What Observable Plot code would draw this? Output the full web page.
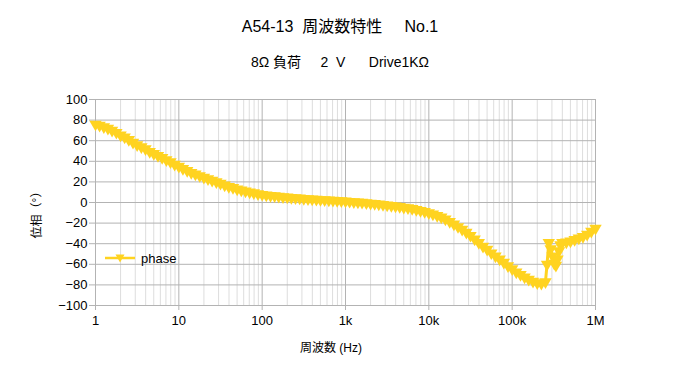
<!DOCTYPE html>
<html><head><meta charset="utf-8">
<script src="https://cdn.jsdelivr.net/npm/d3@7"></script>
<script src="https://cdn.jsdelivr.net/npm/@observablehq/plot@0.6"></script>
<style>
body{margin:0;background:#fff;}
#wrap{position:relative;width:680px;height:383px;font-family:"Liberation Sans","Noto Sans CJK JP",sans-serif;color:#000;overflow:hidden;}
.t{position:absolute;white-space:pre;line-height:1;}
</style></head><body><div id="wrap"></div>
<script>
const freq = [
  1,1.12,1.26,1.41,1.58,1.78,2,2.24,2.51,2.82,3.16,3.55,3.98,4.47,5.01,5.62,6.31,7.08,7.94,8.91,
  10,11.2,12.6,14.1,15.8,17.8,20,22.4,25.1,28.2,31.6,35.5,39.8,44.7,50.1,56.2,63.1,70.8,79.4,89.1,
  100,112,126,141,158,178,200,224,251,282,316,355,398,447,501,562,631,708,794,891,
  1000,1120,1260,1410,1580,1780,2000,2240,2510,2820,3160,3550,3980,4470,5010,5620,6310,7080,7940,8910,
  10000,11200,12600,14100,15800,17800,20000,22400,25100,28200,31600,35500,39800,44700,50100,56200,63100,70800,79400,89100,
  100000,112000,126000,141000,158000,178000,200000,224000,251000,262000,275000,290000,305000,320000,335000,350000,365000,380000,400000,447000,501000,562000,631000,708000,794000,891000,1000000
];
const phase = [
  76,75,73.5,72,70,68,65.5,63.5,61,58.5,56,54,52,49.5,47.5,45.5,43.5,41.5,39.5,37,
  35,33,31,29,27.5,26,24.5,23,21.5,20,18.5,17,15.5,14.5,13,12,11,10,9.3,8.5,
  7.8,7.3,6.8,6.4,6,5.6,5.2,4.8,4.5,4.2,3.9,3.6,3.3,3.0,2.7,2.5,2.3,2.1,1.9,1.7,
  1.3,1.0,0.7,0.4,0.1,-0.3,-0.7,-1.1,-1.5,-2,-2.5,-3,-3.5,-4,-4.6,-5.2,-6,-6.8,-7.8,-8.8,
  -10,-11.2,-12.6,-14.2,-16,-18.5,-21,-23.5,-26,-29,-32,-35.5,-39,-42.5,-45.5,-49,-52,-55,-58,-61.5,
  -64.5,-67.5,-70,-72.5,-74.5,-76.5,-78,-78.5,-77,-60,-39,-45,-52,-59,-61,-55,-47,-41,-39,-38.5,-37.5,-36,-34.5,-33,-31,-28,-25
];
const xTicks = [1,10,100,1000,10000,100000,1000000];
const xTickLabels = ["1","10","100","1k","10k","100k","1M"];
const yTicks = [-100,-80,-60,-40,-20,0,20,40,60,80,100];
const seriesName = "phase";
const titleText = "A54-13  周波数特性     No.1";
const subtitleText = "8Ω 負荷     2  V      Drive1KΩ";
const xLabel = "周波数 (Hz)";
const yLabel = "位相（°）";

const gold = "#ffd320";
const data = freq.map((f, i) => ({f, p: phase[i]}));
const minor = [];
for (const d of xTicks.slice(0, -1)) for (let k = 2; k <= 9; k++) minor.push(d * k);

const chart = Plot.plot({
  width: 680, height: 383,
  marginLeft: 95, marginRight: 85, marginTop: 99, marginBottom: 78,
  style: {fontFamily: '"Liberation Sans", "Noto Sans CJK JP", sans-serif', fontSize: "13px", color: "#000", background: "#fff"},
  x: {type: "log", domain: [1, 1e6]},
  y: {domain: [-100, 100]},
  marks: [
    Plot.ruleX(minor, {stroke: "#dddddd"}),
    Plot.ruleX(xTicks, {stroke: "#b3b3b3"}),
    Plot.ruleY(yTicks, {stroke: "#b3b3b3"}),
    Plot.axisX(xTicks, {tickSize: 5, tickPadding: 5, stroke: "#b3b3b3", fill: "#000", label: null,
      tickFormat: d => xTickLabels[xTicks.indexOf(d)]}),
    Plot.axisY(yTicks, {tickSize: 6, tickPadding: 2, stroke: "#b3b3b3", fill: "#000", label: null}),
    Plot.line(data, {x: "f", y: "p", stroke: gold, strokeWidth: 3}),
    Plot.dot(data, {x: "f", y: "p", symbol: "triangle", rotate: 180, r: 4.6, fill: gold})
  ]
});
const wrap = document.getElementById("wrap");
wrap.appendChild(chart);
chart.style.position = "absolute"; chart.style.left = "0"; chart.style.top = "0";

function addText(txt, css) {
  const d = document.createElement("div");
  d.className = "t"; d.textContent = txt;
  Object.assign(d.style, css);
  wrap.appendChild(d);
  return d;
}
addText(titleText, {left: "0", width: "680px", textAlign: "center", top: "19px", fontSize: "16px"});
addText(subtitleText, {left: "0", width: "680px", textAlign: "center", top: "55px", fontSize: "14px"});
addText(xLabel, {left: "0", width: "662px", textAlign: "center", top: "342px", fontSize: "12px"});
addText(yLabel, {left: "37px", top: "212px", fontSize: "12px", transform: "translate(-50%,-50%) rotate(-90deg)"});

const lg = document.createElement("div");
lg.className = "t";
Object.assign(lg.style, {left: "104px", top: "250px", display: "flex", alignItems: "center", fontSize: "13px"});
lg.innerHTML = `<svg width="34" height="16" style="margin-right:3px"><line x1="1" y1="8" x2="31" y2="8" stroke="${gold}" stroke-width="2.5"/><path d="M11.5,4.5 L20.5,4.5 L16,12.5 Z" fill="${gold}"/></svg><span>${seriesName}</span>`;
wrap.appendChild(lg);
</script>
</body></html>
